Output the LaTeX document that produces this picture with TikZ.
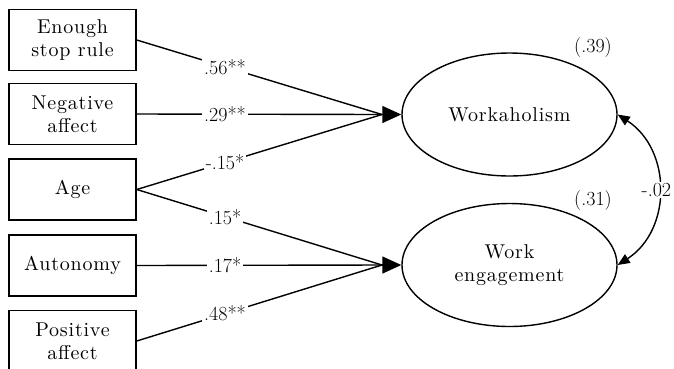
\documentclass[tikz,border=0pt]{standalone}
\usepackage{fontspec}
\newfontfamily\spacedfont{lmroman10-regular.otf}[LetterSpace=4]
\usetikzlibrary{arrows.meta,shapes.geometric}
\begin{document}
\begin{tikzpicture}[x=1pt,y=-1pt,
  lbl/.style={font=\spacedfont\fontsize{20}{23}\selectfont},
  num/.style={font=\fontsize{20}{23}\selectfont},
  varbox/.style={draw,line width=1.5pt,minimum width=127pt,minimum height=61pt,inner sep=0pt,align=center,lbl},
  latent/.style={draw,line width=1.4pt,ellipse,minimum width=215pt,minimum height=123pt,inner sep=0pt,align=center,lbl},
  path/.style={line width=1.4pt},
  coef/.style={fill=white,inner sep=2pt,pos=0.36,num},
  big/.style={-{Triangle[length=19pt,width=17pt]},line width=1.4pt},
  small/.style={{Triangle[length=12pt,width=10pt]}-{Triangle[length=12pt,width=10pt]},line width=1.4pt}
]
\useasboundingbox (0,0) rectangle (674,368);
\node[varbox] (esr) at (72.5,40) {Enough\\stop rule};
\node[varbox] (na) at (72.5,114) {Negative\\affect};
\node[varbox] (age) at (72.5,189.5) {Age};
\node[varbox] (aut) at (72.5,265.5) {Autonomy};
\node[varbox] (pa) at (72.5,341) {Positive\\affect};
\node[latent] (wh) at (509.5,114.5) {Workaholism};
\node[latent] (we) at (509.5,265) {Work\\engagement};
\coordinate (w1) at (382,114.5);
\coordinate (w2) at (382,265);
\draw[path] (esr.east) -- node[coef] {.56**} (w1);
\draw[path] (na.east) -- node[coef] {.29**} (w1);
\draw[path] (age.east) -- node[coef] {-.15*} (w1);
\draw[path] (age.east) -- node[coef] {.15*} (w2);
\draw[path] (aut.east) -- node[coef] {.17*} (w2);
\draw[path] (pa.east) -- node[coef] {.48**} (w2);
\draw[big] (w1) -- (wh.west);
\draw[big] (w2) -- (we.west);
\node[num] (r1) at (593,48) {(.39)};
\node[num] (r2) at (593,201) {(.31)};
\draw[small] (wh.east) .. controls (672,150) and (672,230) .. node[fill=white,inner sep=1pt,xshift=-2pt,num] {-.02} (we.east);
\end{tikzpicture}
\end{document}
